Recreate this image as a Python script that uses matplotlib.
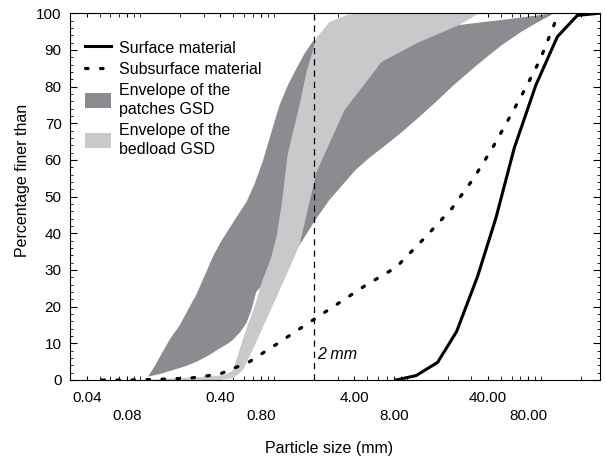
import matplotlib
matplotlib.use("Agg")
import matplotlib.pyplot as plt
from matplotlib.ticker import FixedLocator, LogLocator, MultipleLocator, NullFormatter
from matplotlib.patches import Patch
from matplotlib.lines import Line2D

plt.rcParams['font.family'] = ['Liberation Sans', 'DejaVu Sans']
plt.rcParams['font.size'] = 11.5

# surface material GSD
surf_x = [8.2, 11.6, 16.8, 23.3, 33.4, 45.8, 62.8, 91.2, 132, 186, 270]
surf_y = [0, 1.2, 4.8, 13.2, 28.2, 44.1, 63.2, 80.4, 93.6, 99.4, 100]

# subsurface material GSD
sub_x = [0.052, 0.085, 0.141, 0.236, 0.394, 0.653, 1.075, 1.81, 2.93, 4.91,
         8.22, 13.5, 21.5, 31.0, 42.8, 56.6, 74.6, 97.7, 120, 135]
sub_y = [0, 0, 0.2, 0.5, 1.6, 4.9, 10.0, 15.5, 20.5, 25.9,
         30.7, 38.8, 46.8, 54.8, 63.0, 70.9, 78.9, 87.2, 95.3, 100]

# envelope of the patches GSD (fine edge, then coarse edge)
patch_fine_x = [0.115, 0.13, 0.148, 0.17, 0.199, 0.23, 0.266, 0.305, 0.350, 0.40, 0.469,
                0.54, 0.625, 0.72, 0.826, 0.96, 1.107, 1.28, 1.483, 1.7, 1.95,
                3.5, 8.0, 24.4, 60, 125]
patch_fine_y = [0.9, 4.0, 7.7, 11.5, 15.0, 19.3, 23.5, 28.5, 33.5, 37.5, 41.5,
                45.0, 48.5, 53.5, 59.5, 67.5, 75.0, 80.5, 85.0, 89.0, 92.2,
                94.0, 95.5, 96.8, 98.5, 100]
patch_coarse_x = [0.115, 0.14, 0.176, 0.22, 0.266, 0.33, 0.394, 0.45, 0.493, 0.56, 0.625,
                  0.68, 0.74, 1.56, 2.09, 2.6, 3.27, 4.1, 5.2, 7.3, 9.16, 12.5,
                  16.4, 22, 29.0, 39, 51.1, 70, 91.6, 125]
patch_coarse_y = [0.9, 1.6, 2.7, 3.8, 5.0, 6.8, 8.6, 9.8, 10.9, 13.0, 15.5,
                  19.0, 24.0, 36.8, 44.1, 49.0, 53.2, 57.3, 60.6, 64.8, 67.7, 72.0,
                  75.9, 80.3, 84.1, 88.0, 91.4, 94.8, 97.3, 100]

# envelope of the bedload GSD
bed_fine_x = [0.111, 0.182, 0.305, 0.43, 0.49, 0.526, 0.57, 0.62, 0.72, 0.82, 0.95, 1.05,
              1.146, 1.27, 1.56, 1.76, 2.09, 2.61, 3.5, 4.38]
bed_fine_y = [0, 0.5, 0.8, 1.4, 2.4, 5.5, 9.5, 13.6, 20.0, 27.0, 33.0, 39.0,
              47.7, 61.4, 75.0, 84.0, 93.3, 97.6, 99.5, 100]
bed_coarse_x = [0.39, 0.50, 0.59, 0.68, 0.88, 1.2, 1.56, 2.09, 3.38, 5.2, 6.38, 12, 24.4, 34.4]
bed_coarse_y = [0, 0.5, 2.7, 7.4, 16.4, 27.3, 36.8, 56.7, 73.6, 82.4, 86.7, 92.0, 96.8, 100]

tick_vals = [0.04, 0.08, 0.4, 0.8, 4, 8, 40, 80]
tick_labels = ['0.04', '\n0.08', '0.40', '\n0.80', '4.00', '\n8.00', '40.00', '\n80.00']

dark = '#8b8c90'
light = '#c8c9cb'

fig = plt.figure(figsize=(6.05, 4.57), dpi=100)
ax = fig.add_axes([0.1157, 0.1685, 0.876, 0.8025])

ax.fill(patch_fine_x + patch_coarse_x[::-1], patch_fine_y + patch_coarse_y[::-1],
        color=dark, lw=0, zorder=1)
ax.fill(bed_fine_x + bed_coarse_x[::-1], bed_fine_y + bed_coarse_y[::-1],
        color=light, lw=0, zorder=2)

ax.plot(surf_x, surf_y, color='black', lw=2.2, zorder=4)
ax.plot(sub_x, sub_y, color='black', lw=2.3, dashes=(0.8, 3.9),
        dash_capstyle='round', zorder=4)
ax.axvline(2, color='black', lw=0.9, ls=(0, (5, 4)), zorder=3)
ax.text(2.12, 7, '2 mm', style='italic', fontsize=11.5, va='center', ha='left')

ax.set_xscale('log')
ax.set_xlim(0.03, 275)
ax.set_ylim(0, 100)

ax.xaxis.set_major_locator(FixedLocator(tick_vals))
ax.set_xticklabels(tick_labels)
for t in ax.get_xticklabels():
    t.set_linespacing(1.35)
ax.xaxis.set_minor_locator(LogLocator(base=10, subs=range(1, 10), numticks=20))
ax.xaxis.set_minor_formatter(NullFormatter())
ax.yaxis.set_major_locator(MultipleLocator(10))
ax.yaxis.set_minor_locator(MultipleLocator(2))
ax.tick_params(which='both', direction='in', top=True, right=True, labelsize=11)
ax.tick_params(axis='x', which='major', length=3, pad=8)
ax.tick_params(axis='x', which='minor', length=3)
ax.tick_params(axis='y', which='major', length=5, pad=6)
ax.tick_params(axis='y', which='minor', length=2.5)

ax.set_xlabel('Particle size (mm)', fontsize=11.5)
ax.set_ylabel('Percentage finer than', fontsize=11.5)
ax.xaxis.set_label_coords(0.489, -0.165)
ax.yaxis.set_label_coords(-0.075, 0.545)

handles = [Line2D([], [], color='black', lw=2.2),
           Line2D([], [], color='black', lw=2.3, dashes=(0.8, 3.9), dash_capstyle='round'),
           Patch(color=dark, lw=0),
           Patch(color=light, lw=0)]
labels = ['Surface material', 'Subsurface material',
          'Envelope of the\npatches GSD', 'Envelope of the\nbedload GSD']
leg = ax.legend(handles, labels, loc='upper left', bbox_to_anchor=(0.0, 0.97), frameon=False,
                fontsize=11.5, handlelength=1.6, handleheight=1.1, labelspacing=0.35,
                handletextpad=0.5, borderaxespad=0.55, borderpad=0.4)
for t in leg.get_texts():
    t.set_linespacing(1.35)

fig.savefig('out.png', dpi=100)
